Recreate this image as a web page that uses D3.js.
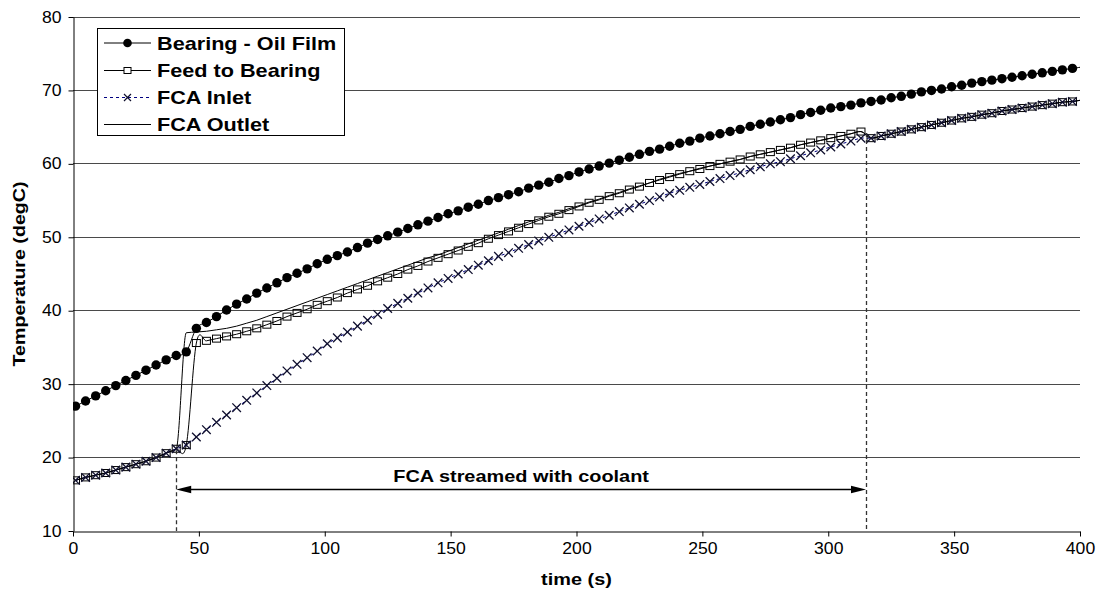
<!DOCTYPE html>
<html><head><meta charset="utf-8">
<script src="https://cdn.jsdelivr.net/npm/d3@7"></script>
<style>body{margin:0;background:#fff}svg{display:block}text{font-family:"Liberation Sans",Arial,sans-serif}</style>
</head><body>
<svg id="chart" width="1107" height="596"></svg>
<script>
// ---------- data ----------
const timeS = [1,5,9,13,17,21,25,29,33,37,41,45,49,53,57,61,65,69,73,77,81,85,89,93,97,101,105,109,113,117,121,125,129,133,137,141,145,149,153,157,161,165,169,173,177,181,185,189,193,197,201,205,209,213,217,221,225,229,233,237,241,245,249,253,257,261,265,269,273,277,281,285,289,293,297,301,305,309,313,317,321,325,329,333,337,341,345,349,353,357,361,365,369,373,377,381,385,389,393,397,401];
const bearingOilFilm = [27.0,27.7,28.4,29.1,29.8,30.5,31.2,31.9,32.6,33.3,33.9,34.4,
 37.6,38.4,39.2,40.1,40.9,41.6,42.4,43.1,43.8,44.5,45.1,45.7,46.4,47.0,
 47.5,48.0,48.6,49.2,49.7,50.2,50.7,51.2,51.7,52.2,52.7,53.2,53.6,54.1,54.5,
 55.0,55.4,55.8,56.2,56.7,57.1,57.5,58.0,58.4,58.9,59.3,59.7,60.1,60.5,60.9,
 61.3,61.7,62.0,62.4,62.8,63.1,63.5,63.8,64.1,64.4,64.7,65.1,65.4,65.7,66.0,
 66.3,66.7,67.0,67.3,67.6,67.8,68.0,68.3,68.5,68.7,69.0,69.2,69.5,69.8,70.0,
 70.2,70.5,70.7,71.0,71.2,71.4,71.6,71.8,72.0,72.2,72.4,72.6,72.8,73.0,73.2];
const feedToBearing = [16.9,17.3,17.6,17.9,18.3,18.7,19.1,19.5,20.0,20.6,21.2,21.7,
 35.6,35.9,36.2,36.5,36.8,37.2,37.6,38.1,38.6,39.2,39.7,40.2,40.8,41.3,
 41.8,42.4,42.9,43.4,44.0,44.5,45.0,45.6,46.1,46.7,47.2,47.7,48.2,48.7,49.2,
 49.8,50.3,50.8,51.3,51.8,52.3,52.8,53.2,53.7,54.2,54.7,55.1,55.6,56.0,56.5,
 56.9,57.4,57.8,58.2,58.6,59.0,59.3,59.7,60.0,60.3,60.6,61.0,61.3,61.6,61.9,
 62.2,62.6,62.9,63.2,63.5,63.8,64.1,64.4,63.5,63.8,64.1,64.4,64.7,65.0,65.3,
 65.6,65.9,66.2,66.4,66.7,66.9,67.2,67.4,67.6,67.8,68.0,68.2,68.4,68.5,68.7];
const fcaInlet = [16.9,17.3,17.6,17.9,18.3,18.7,19.1,19.5,20.0,20.6,21.2,21.7,
 22.8,23.8,24.8,25.8,26.8,27.8,28.8,29.8,30.8,31.8,32.7,33.6,34.5,35.5,
 36.3,37.1,37.9,38.7,39.5,40.3,41.0,41.7,42.4,43.1,43.8,44.4,45.0,45.6,46.2,
 46.8,47.4,47.9,48.5,49.0,49.5,50.0,50.5,51.0,51.5,52.0,52.5,53.0,53.5,54.0,
 54.5,55.0,55.5,56.0,56.4,56.8,57.2,57.6,58.0,58.4,58.8,59.2,59.6,60.0,60.3,
 60.7,61.1,61.5,61.9,62.3,62.7,63.1,63.5,63.5,63.8,64.1,64.4,64.7,65.0,65.3,
 65.6,65.9,66.2,66.4,66.7,66.9,67.2,67.4,67.6,67.8,68.0,68.2,68.4,68.5,68.7];
const fcaOutlet = [16.9,17.3,17.6,17.9,18.3,18.7,19.1,19.5,20.0,20.6,21.2,37.0,
 37.1,37.2,37.4,37.6,37.9,38.3,38.7,39.2,39.7,40.2,40.7,41.2,41.7,42.2,
 42.7,43.2,43.7,44.2,44.7,45.2,45.7,46.2,46.7,47.2,47.6,48.1,48.6,49.1,49.6,
 50.1,50.6,51.1,51.6,52.1,52.5,53.0,53.4,53.9,54.3,54.8,55.2,55.7,56.1,56.6,
 57.0,57.4,57.9,58.3,58.7,59.0,59.4,59.7,60.0,60.3,60.6,61.0,61.3,61.6,61.9,
 62.2,62.6,62.9,63.2,63.5,63.8,64.1,64.4,63.5,63.8,64.1,64.4,64.7,65.0,65.3,
 65.6,65.9,66.2,66.4,66.7,66.9,67.2,67.4,67.6,67.8,68.0,68.2,68.4,68.5,68.7];
const seriesNames = ["Bearing - Oil Film","Feed to Bearing","FCA Inlet","FCA Outlet"];
const yTicks = [10,20,30,40,50,60,70,80];
const xTicks = [0,50,100,150,200,250,300,350,400];
const coolantOn = 41, coolantOff = 315;
const coolantOnTemp = 21.0, coolantOffTemp = 64.2, arrowTemp = 15.6;
const annotation = "FCA streamed with coolant";
const xTitle = "time (s)", yTitle = "Temperature (degC)";

// ---------- layout ----------
const svg = d3.select("#chart");
const L = 73, R = 1080, T = 17, B = 531;
const x = d3.scaleLinear().domain([0,400]).range([L,R]);
const y = d3.scaleLinear().domain([10,80]).range([B,T]);
const crisp = v => Math.floor(v) + 0.5;
const WIDE = 1.17;
function stretch(sel, k){
  sel.each(function(){
    const w = this.getComputedTextLength();
    d3.select(this).attr("textLength", w*k).attr("lengthAdjust","spacingAndGlyphs");
  });
  return sel;
}

svg.append("defs").append("clipPath").attr("id","plotclip")
  .append("rect").attr("x",L).attr("y",T-10).attr("width",R-L).attr("height",B-T+10);

// gridlines
svg.append("g").selectAll("line").data(yTicks.filter(v=>v>10)).join("line")
  .attr("x1",L).attr("x2",R).attr("y1",d=>crisp(y(d))).attr("y2",d=>crisp(y(d)))
  .attr("stroke","#4a4a4a").attr("stroke-width",1);

const plot = svg.append("g").attr("clip-path","url(#plotclip)");
const smooth = d3.line().x((d,i)=>x(timeS[i])).y(d=>y(d)).curve(d3.curveCardinal.tension(0));
const mono = d3.line().x((d,i)=>x(timeS[i])).y(d=>y(d)).curve(d3.curveMonotoneX);
const pts = arr => arr.map((v,i)=>({t:timeS[i],v})).filter(d=>d.t<=400);

plot.append("path").attr("d",smooth(bearingOilFilm)).attr("fill","none").attr("stroke","#000").attr("stroke-width",1);
plot.append("path").attr("d",smooth(feedToBearing)).attr("fill","none").attr("stroke","#000").attr("stroke-width",1);
plot.append("path").attr("d",smooth(fcaInlet)).attr("fill","none").attr("stroke","#000080").attr("stroke-width",1).attr("stroke-dasharray","3,3");
plot.append("path").attr("d",mono(fcaOutlet)).attr("fill","none").attr("stroke","#000").attr("stroke-width",1);

// markers
plot.append("g").selectAll("circle").data(pts(bearingOilFilm)).join("circle")
  .attr("cx",d=>x(d.t)).attr("cy",d=>y(d.v)).attr("r",4.7).attr("fill","#000");
plot.append("g").selectAll("rect").data(pts(feedToBearing)).join("rect")
  .attr("x",d=>x(d.t)-4).attr("y",d=>y(d.v)-3.5).attr("width",8).attr("height",7)
  .attr("fill","none").attr("stroke","#000").attr("stroke-width",1);
plot.append("g").selectAll("path").data(pts(fcaInlet)).join("path")
  .attr("d",d=>{const cx=x(d.t),cy=y(d.v),s=4.3;return `M${cx-s},${cy-s}L${cx+s},${cy+s}M${cx-s},${cy+s}L${cx+s},${cy-s}`;})
  .attr("stroke","#10102e").attr("stroke-width",1.3).attr("fill","none");

// event lines
[[coolantOn,coolantOnTemp],[coolantOff,coolantOffTemp]].forEach(([t,v])=>{
  svg.append("line").attr("x1",crisp(x(t))).attr("x2",crisp(x(t))).attr("y1",y(v)).attr("y2",B)
    .attr("stroke","#333").attr("stroke-width",1.3).attr("stroke-dasharray","4,3");
});
// arrow
const ay = crisp(y(arrowTemp)), ax1 = x(coolantOn), ax2 = x(coolantOff);
svg.append("line").attr("x1",ax1+10).attr("x2",ax2-10).attr("y1",ay).attr("y2",ay).attr("stroke","#000").attr("stroke-width",1.3);
svg.append("path").attr("d",`M${ax1},${ay}L${ax1+15},${ay-3.8}L${ax1+15},${ay+3.8}Z`).attr("fill","#000");
svg.append("path").attr("d",`M${ax2},${ay}L${ax2-15},${ay-3.8}L${ax2-15},${ay+3.8}Z`).attr("fill","#000");
stretch(svg.append("text").attr("x",(ax1+ax2)/2).attr("y",ay-8).attr("text-anchor","middle")
  .attr("font-size",17).attr("font-weight","bold").text(annotation), WIDE);

// axes
const yAxis = svg.append("g").attr("transform",`translate(${L+0.5},0)`)
  .call(d3.axisLeft(y).tickValues(yTicks).tickSize(5).tickSizeOuter(0).tickPadding(7));
const xAxis = svg.append("g").attr("transform",`translate(0,${B+0.5})`)
  .call(d3.axisBottom(x).tickValues(xTicks).tickSize(5).tickSizeOuter(0).tickPadding(6));
[yAxis,xAxis].forEach(g=>{
  g.select(".domain").attr("stroke","#000");
  g.selectAll(".tick line").attr("stroke","#000");
  const tt = g.selectAll(".tick text").attr("font-size",16).attr("fill","#000")
   .attr("font-family","'Liberation Sans',Arial,sans-serif");
  stretch(tt, 1.1);
});
stretch(svg.append("text").attr("x",(L+R)/2).attr("y",585).attr("text-anchor","middle")
  .attr("font-size",17).attr("font-weight","bold").text(xTitle), WIDE);
svg.append("text").attr("transform",`translate(25,${(T+B)/2}) rotate(-90)`).attr("text-anchor","middle")
  .attr("font-size",17).attr("font-weight","bold").attr("textLength",185).attr("lengthAdjust","spacingAndGlyphs").text(yTitle);

// legend
const lg = svg.append("g");
lg.append("rect").attr("x",97.5).attr("y",28.5).attr("width",247).attr("height",107)
  .attr("fill","#fff").attr("stroke","#000").attr("stroke-width",1);
const rows = [43,70.5,97.5,124.5];
seriesNames.forEach((name,i)=>{
  const ry = rows[i];
  const ln = lg.append("line").attr("x1",104).attr("x2",151).attr("y1",ry).attr("y2",ry).attr("stroke-width",1);
  if(i===2) ln.attr("stroke","#000080").attr("stroke-dasharray","3,3"); else ln.attr("stroke","#000");
  if(i===0) lg.append("circle").attr("cx",127.5).attr("cy",ry).attr("r",4.3).attr("fill","#000");
  if(i===1) lg.append("rect").attr("x",124).attr("y",ry-3).attr("width",7).attr("height",6).attr("fill","#fff").attr("stroke","#000");
  if(i===2) lg.append("path").attr("d",`M124,${ry-3.5}L131,${ry+3.5}M124,${ry+3.5}L131,${ry-3.5}`).attr("stroke","#10102e").attr("stroke-width",1.2);
  stretch(lg.append("text").attr("x",157).attr("y",ry+6.5).attr("font-size",18.5).attr("font-weight","bold").text(name), WIDE);
});
</script>
</body></html>
